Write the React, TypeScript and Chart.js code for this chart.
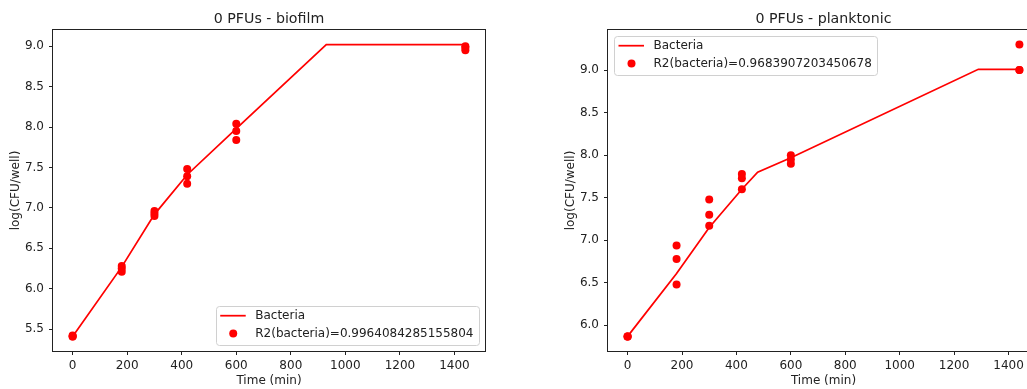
import React, { useEffect, useRef } from 'react';
import { Chart, registerables } from 'chart.js';

Chart.register(...registerables);

// ---- biofilm measurements (log CFU per well) ----
const biofilmTimes = [0, 0, 0, 180, 180, 180, 300, 300, 300, 420, 420, 420, 600, 600, 600, 1440, 1440, 1440];
const biofilmCfu = [5.41, 5.41, 5.42, 6.28, 6.25, 6.21, 6.96, 6.93, 6.9, 7.48, 7.39, 7.3, 8.04, 7.95, 7.84, 9.0, 8.98, 8.95];
// model curve for biofilm bacteria
const biofilmFitTimes = [0, 180, 300, 420, 600, 930, 1440];
const biofilmFitCfu = [5.41, 6.27, 6.92, 7.41, 7.98, 9.02, 9.02];
const biofilmR2 = 'R2(bacteria)=0.9964084285155804';

// ---- planktonic measurements (log CFU per well) ----
const planktonicTimes = [0, 0, 0, 180, 180, 180, 300, 300, 300, 420, 420, 420, 600, 600, 600, 1440, 1440, 1440];
const planktonicCfu = [5.87, 5.87, 5.87, 6.94, 6.78, 6.48, 7.48, 7.3, 7.17, 7.78, 7.73, 7.6, 8.0, 7.95, 7.9, 9.3, 9.0, 9.0];
// model curve for planktonic bacteria
const planktonicFitTimes = [0, 180, 300, 420, 478, 600, 1289, 1440];
const planktonicFitCfu = [5.87, 6.61, 7.15, 7.6, 7.8, 7.97, 9.01, 9.01];
const planktonicR2 = 'R2(bacteria)=0.9683907203450678';

// axis ticks
const timeTicks = [0, 200, 400, 600, 800, 1000, 1200, 1400];
const timeTickStep = 200;
const cfuTickStep = 0.5;

const FONT = 'DejaVu Sans';
const INK = '#222222';
const RED = '#ff0000';
const SMALL = 12;

type Pt = { x: number; y: number };
const zip = (xs: number[], ys: number[]): Pt[] => xs.map((x, i) => ({ x, y: ys[i] }));

// matplotlib-style 5% margins around the data
function paddedRange(values: number[]) {
  const lo = Math.min(...values);
  const hi = Math.max(...values);
  const m = (hi - lo) * 0.05;
  return { min: lo - m, max: hi + m };
}

const axesPlugin = {
  id: 'axesDecor',
  afterDatasetsDraw(chart: any) {
    const { ctx, chartArea: a } = chart;
    ctx.save();
    ctx.strokeStyle = INK;
    ctx.lineWidth = 1;
    const l = Math.round(a.left) - 0.5;
    const t = Math.round(a.top) - 0.5;
    const r = Math.round(a.right) + 0.5;
    const b = Math.round(a.bottom) + 0.5;
    ctx.strokeRect(l, t, r - l, b - t);
    ctx.restore();
  },
  afterDraw(chart: any, _args: any, opts: any) {
    const { ctx, chartArea: a } = chart;
    ctx.save();
    // title
    ctx.fillStyle = INK;
    ctx.font = `14.2px "${FONT}"`;
    ctx.textAlign = 'center';
    ctx.textBaseline = 'alphabetic';
    ctx.fillText(opts.title, (a.left + a.right) / 2, 22.5);

    // legend
    ctx.font = `${SMALL}px "${FONT}"`;
    const items: { kind: string; text: string }[] = opts.legendItems;
    const textW = Math.max(...items.map((it) => ctx.measureText(it.text).width));
    const w = 39.5 + textW + 5;
    const h = 39;
    let x0: number;
    let y0: number;
    if (opts.legendCorner === 'lowerRight') {
      x0 = a.right - 6.5 - w;
      y0 = a.bottom - 6 - h;
    } else {
      x0 = a.left + 6;
      y0 = a.top + 6;
    }
    ctx.beginPath();
    (ctx as any).roundRect(Math.round(x0) + 0.5, Math.round(y0) + 0.5, Math.round(w), h, 3);
    ctx.fillStyle = 'rgba(255,255,255,0.8)';
    ctx.fill();
    ctx.strokeStyle = '#d0d0d0';
    ctx.lineWidth = 1;
    ctx.stroke();

    const rows = [y0 + 9.7, y0 + 27.4];
    items.forEach((it, i) => {
      const cy = rows[i];
      if (it.kind === 'line') {
        ctx.strokeStyle = RED;
        ctx.lineWidth = 1.75;
        ctx.beginPath();
        ctx.moveTo(x0 + 4.5, cy);
        ctx.lineTo(x0 + 30, cy);
        ctx.stroke();
      } else {
        ctx.fillStyle = RED;
        ctx.beginPath();
        ctx.arc(x0 + 17.5, cy, 4, 0, Math.PI * 2);
        ctx.fill();
      }
      ctx.fillStyle = INK;
      ctx.textAlign = 'left';
      ctx.textBaseline = 'middle';
      ctx.fillText(it.text, x0 + 39.5, cy + 0.5);
    });
    ctx.restore();
  },
};

type PanelProps = {
  title: string;
  times: number[];
  cfu: number[];
  fitTimes: number[];
  fitCfu: number[];
  r2: string;
  legendCorner: 'lowerRight' | 'upperLeft';
  left: number;
  width: number;
  yAxisWidth: number;
  padRight: number;
  yTitlePad: number;
};

function Panel(p: PanelProps) {
  const ref = useRef<HTMLCanvasElement | null>(null);
  useEffect(() => {
    if (!ref.current) return;
    const xr = paddedRange([...p.times, ...p.fitTimes]);
    const yr = paddedRange([...p.cfu, ...p.fitCfu]);
    const tickFont = { family: FONT, size: SMALL };
    const grid = {
      display: true,
      drawOnChartArea: false,
      drawTicks: true,
      tickLength: 4,
      color: INK,
      lineWidth: 1,
    };
    const chart = new Chart(ref.current, {
      type: 'scatter',
      data: {
        datasets: [
          {
            label: p.r2,
            data: zip(p.times, p.cfu),
            showLine: false,
            pointRadius: 4,
            pointBorderWidth: 0,
            backgroundColor: RED,
            borderColor: RED,
            order: 0,
          },
          {
            label: 'Bacteria',
            data: zip(p.fitTimes, p.fitCfu),
            showLine: true,
            pointRadius: 0,
            borderColor: RED,
            borderWidth: 1.75,
            fill: false,
            order: 1,
          },
        ],
      },
      options: {
        responsive: false,
        animation: false,
        layout: { padding: { left: 0, right: p.padRight, top: 30, bottom: 0 } },
        plugins: {
          legend: { display: false },
          tooltip: { enabled: false },
          title: { display: false },
          axesDecor: {
            title: p.title,
            legendCorner: p.legendCorner,
            legendItems: [
              { kind: 'line', text: 'Bacteria' },
              { kind: 'dot', text: p.r2 },
            ],
          },
        } as any,
        scales: {
          x: {
            type: 'linear',
            min: xr.min,
            max: xr.max,
            afterFit: (s: any) => {
              s.height = 38;
            },
            afterBuildTicks: (s: any) => {
              s.ticks = timeTicks.map((v) => ({ value: v }));
            },
            ticks: {
              stepSize: timeTickStep,
              includeBounds: false,
              padding: 4,
              color: INK,
              font: tickFont,
              maxRotation: 0,
              callback: (v: any) => String(v),
            },
            grid,
            border: { display: false },
            title: {
              display: true,
              text: 'Time (min)',
              color: INK,
              font: tickFont,
              padding: { top: 0, bottom: 0.5 },
            },
          },
          y: {
            type: 'linear',
            min: yr.min,
            max: yr.max,
            afterFit: (s: any) => {
              s.width = p.yAxisWidth;
            },
            ticks: {
              stepSize: cfuTickStep,
              includeBounds: false,
              padding: 5,
              color: INK,
              font: tickFont,
              callback: (v: any) => Number(v).toFixed(1),
            },
            grid,
            border: { display: false },
            title: {
              display: true,
              text: 'log(CFU/well)',
              color: INK,
              font: tickFont,
              padding: { top: p.yTitlePad, bottom: 0 },
            },
          },
        },
      },
      plugins: [axesPlugin],
    } as any);
    return () => chart.destroy();
  }, []);
  return (
    <canvas
      ref={ref}
      width={p.width}
      height={389}
      style={{ position: 'absolute', left: p.left, top: 0, width: p.width, height: 389 }}
    />
  );
}

export default function App() {
  return (
    <div
      style={{
        position: 'fixed',
        left: 0,
        top: 0,
        width: 1027,
        height: 389,
        overflow: 'hidden',
        background: '#ffffff',
      }}
    >
      <Panel
        title="0 PFUs - biofilm"
        times={biofilmTimes}
        cfu={biofilmCfu}
        fitTimes={biofilmFitTimes}
        fitCfu={biofilmFitCfu}
        r2={biofilmR2}
        legendCorner="lowerRight"
        left={0}
        width={515}
        yAxisWidth={53}
        padRight={30}
        yTitlePad={8.8}
      />
      <Panel
        title="0 PFUs - planktonic"
        times={planktonicTimes}
        cfu={planktonicCfu}
        fitTimes={planktonicFitTimes}
        fitCfu={planktonicFitCfu}
        r2={planktonicR2}
        legendCorner="upperLeft"
        left={515}
        width={530}
        yAxisWidth={93}
        padRight={6}
        yTitlePad={48.5}
      />
    </div>
  );
}
